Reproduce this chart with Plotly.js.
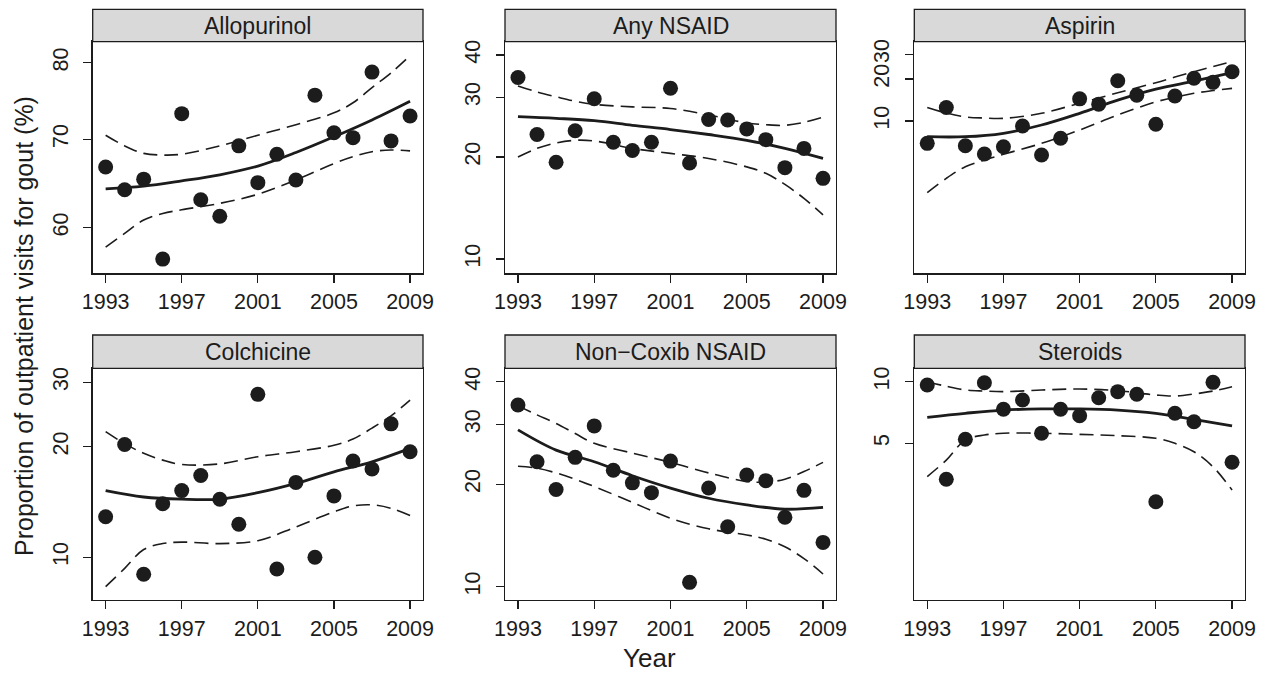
<!DOCTYPE html>
<html>
<head>
<meta charset="utf-8">
<script src="https://cdn.plot.ly/plotly-3.0.1.min.js"></script>
<style>html,body{margin:0;padding:0;background:#fff;}#chart{width:1261px;height:674px;}</style>
</head>
<body>
<div id="chart"></div>
<script>
// ---------- DATA ----------
const years = [1993,1994,1995,1996,1997,1998,1999,2000,2001,2002,2003,2004,2005,2006,2007,2008,2009];
const curveYears = [1993,1995,1997,1999,2001,2003,2005,2007,2009];
const bandYears = [1993,1994,1995,1996,1997,1999,2001,2003,2005,2006,2007,2008,2009];
const xTickVals = [1993,1997,2001,2005,2009];

const panelNames = ["Allopurinol","Any NSAID","Aspirin","Colchicine","Non\u2212Coxib NSAID","Steroids"];

// observed proportions (%)
const allopurinolPts = [66.7,64.1,65.3,56.8,73.2,63.0,61.2,69.2,64.9,68.2,65.2,75.6,70.8,70.2,78.7,69.8,72.9];
const anyNsaidPts    = [34.3,23.3,19.3,23.9,29.7,22.1,20.9,22.1,31.9,19.2,25.8,25.7,24.2,22.5,18.6,21.2,17.3];
const aspirinPts     = [6.92,12.5,6.66,5.81,6.55,9.21,5.71,7.52,14.4,13.2,19.4,15.3,9.47,15.1,20.2,18.9,22.5];
const colchicinePts  = [12.9,20.3,8.99,14.0,15.2,16.7,14.4,12.3,27.8,9.29,16.0,10.0,14.7,18.3,17.4,23.1,19.4];
const nonCoxibPts    = [34.2,23.3,19.3,24.0,29.7,22.0,20.2,18.9,23.4,10.3,19.5,15.0,21.3,20.5,16.0,19.2,13.5];
const steroidsPts    = [9.64,3.34,5.23,9.89,7.33,8.14,5.60,7.33,6.82,8.35,8.94,8.68,2.59,7.01,6.37,9.93,4.04];

// fitted trend (at curveYears)
const allopurinolFit = [64.2,64.5,65.1,65.8,66.8,68.4,70.3,72.4,74.8];
const anyNsaidFit    = [26.3,26.0,25.6,24.8,24.1,23.3,22.4,21.2,19.8];
const aspirinFit     = [7.72,7.72,8.17,9.36,11.35,14.1,16.9,19.3,22.2];
const colchicineFit  = [15.2,14.6,14.4,14.4,15.0,15.9,17.1,18.2,19.8];
const nonCoxibFit    = [28.9,25.2,23.3,21.2,19.5,18.2,17.4,16.9,17.1];
const steroidsFit    = [6.70,7.01,7.27,7.36,7.36,7.27,7.01,6.55,6.08];

// confidence bands (at bandYears)
const allopurinolUpper = [70.5,69.2,68.3,68.1,68.2,69.2,70.5,71.8,73.3,74.6,76.6,78.6,81.0];
const allopurinolLower = [58.0,59.4,60.8,61.5,61.9,62.6,63.6,65.2,67.1,67.9,68.5,68.7,68.6];
const anyNsaidUpper    = [32.4,31.1,30.1,29.2,28.6,28.1,27.8,26.6,25.2,24.9,24.8,25.3,26.2];
const anyNsaidLower    = [20.0,21.2,22.0,22.4,22.3,21.2,20.5,19.8,18.7,17.9,16.6,15.1,13.5];
const aspirinUpper     = [12.5,11.4,10.7,10.5,10.45,11.35,13.4,15.9,18.8,20.6,22.5,24.5,26.6];
const aspirinLower     = [3.07,3.89,4.71,5.26,5.78,6.92,8.62,11.04,13.7,14.8,15.8,16.5,17.1];
const colchicineUpper  = [22.0,20.4,19.2,18.4,17.9,17.97,18.8,19.4,20.2,21.0,22.5,24.3,26.8];
const colchicineLower  = [8.32,9.33,10.5,10.9,11.0,10.9,11.1,12.1,13.3,13.8,13.9,13.6,13.0];
const nonCoxibUpper    = [34.0,32.0,30.2,28.2,26.4,24.7,23.2,21.6,20.4,20.3,20.7,21.8,23.2];
const nonCoxibLower    = [22.6,22.3,21.6,20.7,19.7,17.7,15.9,14.8,14.2,13.8,13.1,12.1,10.9];
const steroidsUpper    = [10.0,9.5,9.11,9.0,8.94,9.11,9.21,9.04,8.61,8.51,8.71,9.0,9.45];
const steroidsLower    = [3.44,4.14,5.19,5.49,5.60,5.60,5.53,5.45,5.29,5.0,4.55,3.84,2.96];

// y tick values per panel
const allopurinolTicks = [60,70,80];
const anyNsaidTicks    = [10,20,30,40];
const aspirinTicks     = [10,20,30];
const colchicineTicks  = [10,20,30];
const nonCoxibTicks    = [10,20,30,40];
const steroidsTicks    = [5,10];

// ---------- BUILD ----------
const W = 1261, H = 674;
const px = v => v / W;
const py = v => 1 - v / H;

const colPx = [[92.7,423],[505,836],[914.3,1245]];
const rowPx = [{top:41.7,bottom:273.3,stripTop:9.3},{top:368.3,bottom:600,stripTop:335}];

const panels = [
  {pts:allopurinolPts, fit:allopurinolFit, up:allopurinolUpper, lo:allopurinolLower, ticks:allopurinolTicks, range:[1.7436,1.919]},
  {pts:anyNsaidPts, fit:anyNsaidFit, up:anyNsaidUpper, lo:anyNsaidLower, ticks:anyNsaidTicks, range:[0.958,1.641]},
  {pts:aspirinPts, fit:aspirinFit, up:aspirinUpper, lo:aspirinLower, ticks:aspirinTicks, range:[-0.089,1.567]},
  {pts:colchicinePts, fit:colchicineFit, up:colchicineUpper, lo:colchicineLower, ticks:colchicineTicks, range:[0.8837,1.515]},
  {pts:nonCoxibPts, fit:nonCoxibFit, up:nonCoxibUpper, lo:nonCoxibLower, ticks:nonCoxibTicks, range:[0.961,1.642]},
  {pts:steroidsPts, fit:steroidsFit, up:steroidsUpper, lo:steroidsLower, ticks:steroidsTicks, range:[-0.0665,1.0655]}
];

const ink = '#1c1c1c';
const font = 'Liberation Sans, Arial, Helvetica, sans-serif';
const traces = [];
const layout = {
  width: W, height: H,
  margin: {l:0,r:0,t:0,b:0},
  paper_bgcolor: '#fff', plot_bgcolor: '#fff',
  showlegend: false,
  font: {family: font, color: ink},
  shapes: [], annotations: []
};

panels.forEach((p, i) => {
  const r = Math.floor(i / 3), c = i % 3;
  const sfx = i === 0 ? '' : String(i + 1);
  const xa = 'x' + sfx, ya = 'y' + sfx;
  const xd = [px(colPx[c][0]), px(colPx[c][1])];
  const yd = [py(rowPx[r].bottom), py(rowPx[r].top)];

  const dashed = {color: ink, width: 1.6, dash: '14px,7px', shape: 'spline', smoothing: 1};
  traces.push({x: bandYears, y: p.up, xaxis: xa, yaxis: ya, mode: 'lines', line: dashed, hoverinfo: 'skip'});
  traces.push({x: bandYears, y: p.lo, xaxis: xa, yaxis: ya, mode: 'lines', line: dashed, hoverinfo: 'skip'});
  traces.push({x: curveYears, y: p.fit, xaxis: xa, yaxis: ya, mode: 'lines',
               line: {color: ink, width: 2.8, shape: 'spline', smoothing: 1}});
  traces.push({x: years, y: p.pts, xaxis: xa, yaxis: ya, mode: 'markers',
               marker: {size: 15, color: ink, line: {width: 0}}});

  layout['xaxis' + sfx] = {
    domain: xd, anchor: ya, range: [1992.32, 2009.68],
    tickmode: 'array', tickvals: xTickVals, ticktext: xTickVals.map(String),
    ticks: 'outside', ticklen: 8, tickwidth: 1.2, tickcolor: ink,
    showline: true, mirror: true, linecolor: ink, linewidth: 1.3,
    showgrid: false, zeroline: false,
    tickfont: {size: 21.5, color: ink, family: font}, ticklabelstandoff: 1
  };
  layout['yaxis' + sfx] = {
    domain: yd, anchor: xa, type: 'log', range: p.range,
    tickmode: 'array', tickvals: p.ticks, ticktext: p.ticks.map(String),
    ticks: 'outside', ticklen: 8, tickwidth: 1.2, tickcolor: ink, tickangle: -90,
    showline: true, mirror: true, linecolor: ink, linewidth: 1.3,
    showgrid: false, zeroline: false,
    tickfont: {size: 21.5, color: ink, family: font}, ticklabelstandoff: 7
  };

  layout.shapes.push({type: 'rect', xref: 'paper', yref: 'paper',
    x0: xd[0], x1: xd[1], y0: yd[1], y1: py(rowPx[r].stripTop),
    fillcolor: '#d9d9d9', line: {color: ink, width: 1.3}, layer: 'above'});
  layout.annotations.push({xref: 'paper', yref: 'paper',
    x: (xd[0] + xd[1]) / 2, y: (yd[1] + py(rowPx[r].stripTop)) / 2,
    xanchor: 'center', yanchor: 'middle', showarrow: false,
    text: panelNames[i], font: {size: 23, color: ink, family: font}});
});

layout.annotations.push({xref: 'paper', yref: 'paper', x: px(650), y: py(658),
  xanchor: 'center', yanchor: 'middle', showarrow: false,
  text: 'Year', font: {size: 26, color: ink, family: font}});
layout.annotations.push({xref: 'paper', yref: 'paper', x: px(24), y: py(326),
  xanchor: 'center', yanchor: 'middle', showarrow: false, textangle: -90,
  text: 'Proportion of outpatient visits for gout (%)', font: {size: 25, color: ink, family: font}});

Plotly.newPlot('chart', traces, layout, {staticPlot: true, displayModeBar: false});
</script>
</body>
</html>
